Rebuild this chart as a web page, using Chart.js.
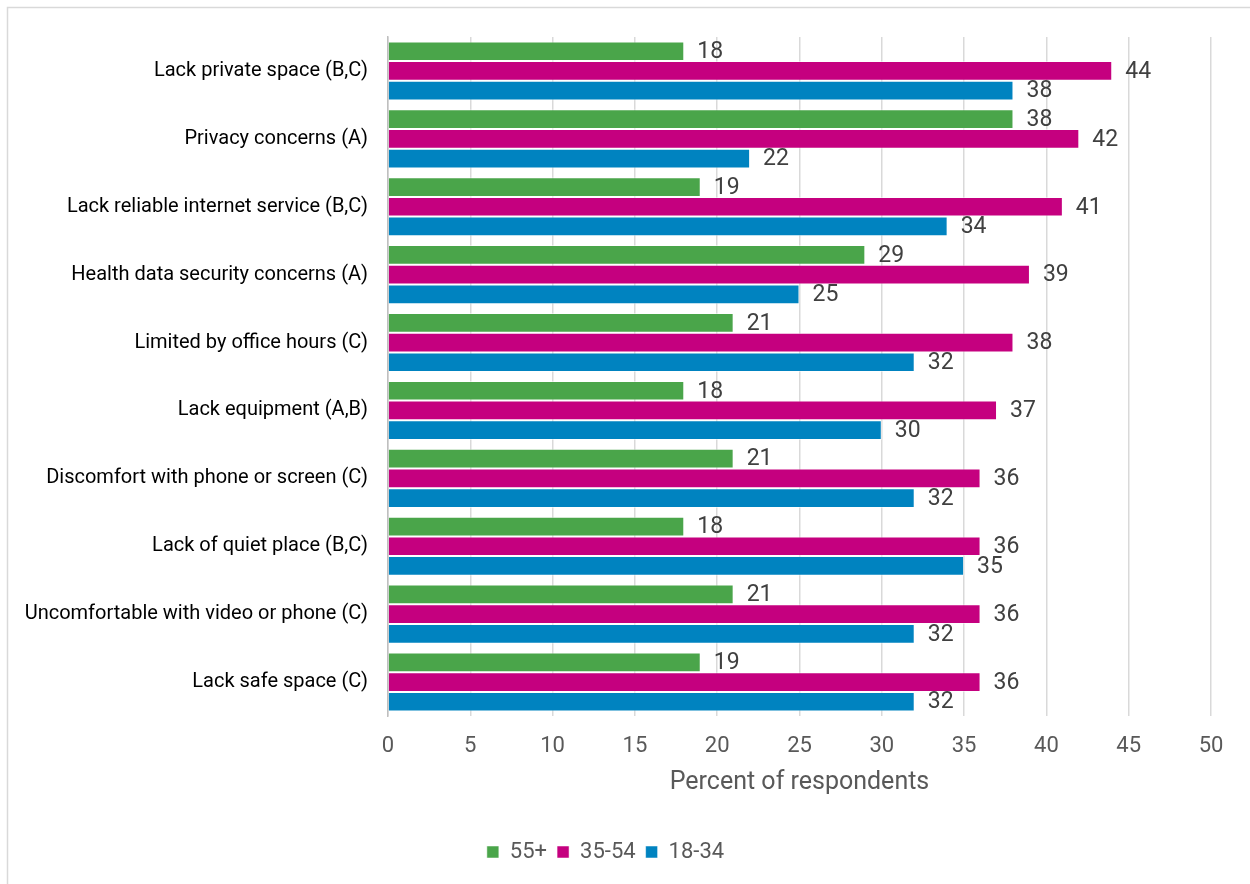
<!DOCTYPE html>
<html>
<head>
<meta charset="utf-8">
<script src="https://cdn.jsdelivr.net/npm/chart.js@4.4.1/dist/chart.umd.min.js"></script>
<style>
  html, body { margin: 0; padding: 0; background: #fff; }
  #wrap { position: relative; width: 1250px; height: 884px; }
</style>
</head>
<body>
<div id="wrap"><canvas id="chart" width="1250" height="884"></canvas></div>
<script>
// Barriers to telehealth use, by age group (percent of respondents)
const categories = [
  'Lack private space (B,C)',
  'Privacy concerns (A)',
  'Lack reliable internet service (B,C)',
  'Health data security concerns (A)',
  'Limited by office hours (C)',
  'Lack equipment (A,B)',
  'Discomfort with phone or screen (C)',
  'Lack of quiet place (B,C)',
  'Uncomfortable with video or phone (C)',
  'Lack safe space (C)'
];
const seriesNames = ['55+', '35-54', '18-34'];
const age55plus = [18, 38, 19, 29, 21, 18, 21, 18, 21, 19];
const age35to54 = [44, 42, 41, 39, 38, 37, 36, 36, 36, 36];
const age18to34 = [38, 22, 34, 25, 32, 30, 32, 35, 32, 32];
const xTicks = [0, 5, 10, 15, 20, 25, 30, 35, 40, 45, 50];

const FONT = 'Roboto, "Liberation Sans", sans-serif';
const colors = ['#4aa54a', '#c5007f', '#0083c0'];

// Value labels written just past the end of each bar
const valueLabels = {
  id: 'valueLabels',
  afterDatasetsDraw(chart) {
    const ctx = chart.ctx;
    ctx.save();
    ctx.font = '23px ' + FONT;
    ctx.fillStyle = '#404040';
    ctx.textAlign = 'left';
    ctx.textBaseline = 'middle';
    chart.data.datasets.forEach((ds, i) => {
      const meta = chart.getDatasetMeta(i);
      meta.data.forEach((el, j) => {
        ctx.fillText(String(ds.data[j]), el.x + 13, el.y + 1);
      });
    });
    ctx.restore();
  }
};

// Thin frame around the chart
const frame = {
  id: 'frame',
  beforeDraw(chart) {
    const ctx = chart.ctx;
    ctx.save();
    ctx.strokeStyle = '#d9d9d9';
    ctx.lineWidth = 1.5;
    ctx.strokeRect(7.5, 7.5, 1400, 1000);
    ctx.restore();
  }
};

new Chart(document.getElementById('chart'), {
  type: 'bar',
  data: {
    labels: categories,
    datasets: [
      { label: seriesNames[0], data: age55plus, backgroundColor: colors[0] },
      { label: seriesNames[1], data: age35to54, backgroundColor: colors[1] },
      { label: seriesNames[2], data: age18to34, backgroundColor: colors[2] }
    ].map(d => Object.assign(d, {
      borderColor: 'rgba(255,255,255,0.5)',
      borderWidth: 1,
      barPercentage: 1,
      categoryPercentage: 0.87
    }))
  },
  options: {
    indexAxis: 'y',
    responsive: false,
    animation: false,
    devicePixelRatio: 1,
    layout: { padding: { top: 37, right: 39, left: 0, bottom: 11 } },
    plugins: {
      legend: {
        position: 'bottom',
        labels: {
          boxWidth: 12,
          boxHeight: 12,
          padding: 10,
          color: '#595959',
          font: { family: FONT, size: 22 }
        }
      },
      tooltip: { enabled: false }
    },
    scales: {
      x: {
        min: 0,
        max: 50,
        afterBuildTicks(scale) { scale.ticks = xTicks.map(v => ({ value: v })); },
        afterFit(scale) { scale.height = 115; },
        grid: { color: '#d9d9d9', lineWidth: 1.5, drawTicks: false },
        border: { display: false },
        ticks: {
          padding: 17,
          color: '#595959',
          font: { family: FONT, size: 22 }
        },
        title: {
          display: true,
          text: 'Percent of respondents',
          color: '#595959',
          font: { family: FONT, size: 25 },
          padding: { top: 0, bottom: 33 }
        }
      },
      y: {
        afterFit(scale) { scale.width = 388; },
        grid: { display: false, drawTicks: false },
        border: { display: true, color: '#bfbfbf', width: 1.5 },
        ticks: {
          padding: 20,
          color: '#000000',
          font: { family: FONT, size: 20 }
        }
      }
    }
  },
  plugins: [frame, valueLabels]
});
</script>
</body>
</html>
